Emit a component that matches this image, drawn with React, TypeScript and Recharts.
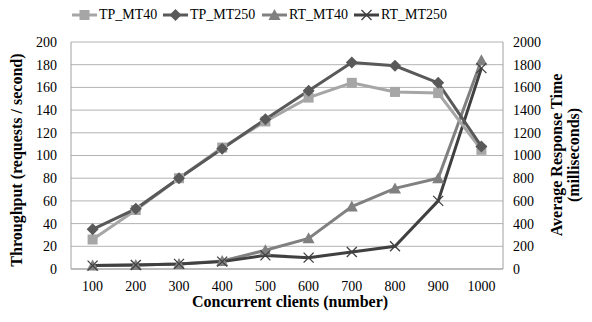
import React from 'react';
import { LineChart, Line, XAxis, YAxis, CartesianGrid } from 'recharts';

const categories = ['100', '200', '300', '400', '500', '600', '700', '800', '900', '1000'];
const tpMT40 = [26, 52, 80, 107, 130, 151, 164, 156, 155, 105];
const tpMT250 = [35, 53, 80, 106, 132, 157, 182, 179, 164, 108];
const rtMT40 = [30, 35, 45, 70, 165, 270, 550, 710, 800, 1840];
const rtMT250 = [30, 35, 45, 65, 120, 100, 150, 200, 600, 1770];
const leftTicks = [0, 20, 40, 60, 80, 100, 120, 140, 160, 180, 200];
const rightTicks = [0, 200, 400, 600, 800, 1000, 1200, 1400, 1600, 1800, 2000];
const seriesNames = ['TP_MT40', 'TP_MT250', 'RT_MT40', 'RT_MT250'];

const data = categories.map((c, i) => ({
  x: c,
  TP_MT40: tpMT40[i],
  TP_MT250: tpMT250[i],
  RT_MT40: rtMT40[i],
  RT_MT250: rtMT250[i],
}));

const FONT = "'Liberation Serif', 'Times New Roman', Tinos";
const C_TP40 = '#a6a6a6';
const C_TP250 = '#595959';
const C_RT40 = '#808080';
const C_RT250 = '#404040';

const Square = (p: any) => {
  const { cx, cy, color } = p;
  if (cx == null || cy == null) return null;
  return <rect key={p.key} x={cx - 5} y={cy - 5} width={10} height={10} fill={color} />;
};
const Diamond = (p: any) => {
  const { cx, cy, color } = p;
  if (cx == null || cy == null) return null;
  return <path key={p.key} d={`M${cx},${cy - 6}L${cx + 6},${cy}L${cx},${cy + 6}L${cx - 6},${cy}Z`} fill={color} />;
};
const Triangle = (p: any) => {
  const { cx, cy, color } = p;
  if (cx == null || cy == null) return null;
  return <path key={p.key} d={`M${cx},${cy - 6}L${cx + 6},${cy + 5}L${cx - 6},${cy + 5}Z`} fill={color} />;
};
const Cross = (p: any) => {
  const { cx, cy, color } = p;
  if (cx == null || cy == null) return null;
  return (
    <path key={p.key} d={`M${cx - 5},${cy - 5}L${cx + 5},${cy + 5}M${cx - 5},${cy + 5}L${cx + 5},${cy - 5}`} stroke={color} strokeWidth={1.3} fill="none" />
  );
};

const markers = [Square, Diamond, Triangle, Cross];
const colors = [C_TP40, C_TP250, C_RT40, C_RT250];
const legendX = [72, 163, 262, 354];

const SerifTick = (props: any) => {
  const { x, y, payload, textAnchor, orientation } = props;
  const dy = orientation === 'bottom' ? '0.71em' : '0.355em';
  return (
    <text x={x} y={y} dy={dy} textAnchor={textAnchor} fill="#000" fontSize={14} fontFamily="Liberation Serif" style={{ fontFamily: FONT }}>
      {payload.value}
    </text>
  );
};

const titleCss: React.CSSProperties = {
  position: 'absolute',
  fontFamily: FONT,
  fontSize: 16,
  fontWeight: 700,
  lineHeight: '16px',
  height: 16,
  textAlign: 'center',
  whiteSpace: 'nowrap',
  color: '#000',
};

const vTitle = (cx: number, cy: number, w: number): React.CSSProperties => ({
  ...titleCss,
  left: cx - w / 2,
  top: cy - 8,
  width: w,
  transform: 'rotate(-90deg)',
  transformOrigin: '50% 50%',
});

const css = `#root, #root *, #root text, #root tspan { font-family: 'Liberation Serif', 'Times New Roman', Tinos !important; }`;

export default function App() {
  return (
    <div style={{ position: 'absolute', left: 0, top: 0, width: 592, height: 322, background: '#fff', fontFamily: FONT }}>
      <style>{css}</style>
      <LineChart width={592} height={322} data={data} margin={{ top: 42, right: 0, bottom: 0, left: 5 }}>
        <CartesianGrid vertical={false} stroke="#b3b3b3" strokeWidth={1} yAxisId="left" />
        <XAxis
          dataKey="x"
          height={53}
          padding={{ left: 21.6, right: 21.6 }}
          tickLine={false}
          tickSize={0}
          tickMargin={12}
          axisLine={{ stroke: '#a0a0a0' }}
          tick={<SerifTick />}
          interval={0}
        />
        <YAxis
          yAxisId="left"
          width={66}
          domain={[0, 200]}
          ticks={leftTicks}
          tickLine={false}
          tickSize={0}
          tickMargin={14}
          axisLine={{ stroke: '#a0a0a0' }}
          tick={<SerifTick />}
          interval={0}
        />
        <YAxis
          yAxisId="right"
          orientation="right"
          width={89}
          domain={[0, 2000]}
          ticks={rightTicks}
          tickLine={false}
          tickSize={0}
          tickMargin={10}
          axisLine={{ stroke: '#a0a0a0' }}
          tick={<SerifTick />}
          interval={0}
        />
        <Line yAxisId="right" dataKey="RT_MT40" stroke={C_RT40} strokeWidth={3} isAnimationActive={false}
          dot={(p: any) => <Triangle {...p} color={C_RT40} />} />
        <Line yAxisId="right" dataKey="RT_MT250" stroke={C_RT250} strokeWidth={3} isAnimationActive={false}
          dot={(p: any) => <Cross {...p} color={C_RT250} />} />
        <Line yAxisId="left" dataKey="TP_MT40" stroke={C_TP40} strokeWidth={3} isAnimationActive={false}
          dot={(p: any) => <Square {...p} color={C_TP40} />} />
        <Line yAxisId="left" dataKey="TP_MT250" stroke={C_TP250} strokeWidth={3} isAnimationActive={false}
          dot={(p: any) => <Diamond {...p} color={C_TP250} />} />
      </LineChart>
      <svg width={592} height={30} style={{ position: 'absolute', left: 0, top: 0, pointerEvents: 'none' }}>
        {seriesNames.map((name, i) => {
          const M = markers[i];
          const x0 = legendX[i];
          return (
            <g key={name}>
              <line x1={x0} x2={x0 + 25} y1={15} y2={15} stroke={colors[i]} strokeWidth={3} />
              <M cx={x0 + 12.5} cy={15} color={colors[i]} />
            </g>
          );
        })}
      </svg>
      {seriesNames.map((name, i) => (
        <div
          key={name}
          style={{ position: 'absolute', left: legendX[i] + 27, top: 7, fontFamily: FONT, fontSize: 14, lineHeight: '16px', whiteSpace: 'nowrap', color: '#000' }}
        >
          {name}
        </div>
      ))}
      <div style={vTitle(17, 160, 240)}>Throughput (requests / second)</div>
      <div style={vTitle(557, 155, 200)}>Average Response Time</div>
      <div style={vTitle(574, 155, 200)}>(milliseconds)</div>
      <div style={{ ...titleCss, left: 185, top: 294, width: 210 }}>Concurrent clients (number)</div>
    </div>
  );
}
